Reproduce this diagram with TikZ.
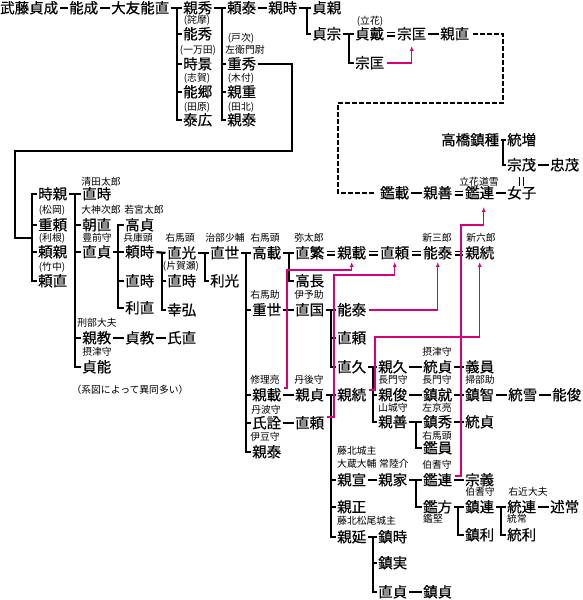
\documentclass[tikz,border=0pt]{standalone}
\usepackage{fontspec}
\setmainfont{Noto Sans CJK JP}
\newfontfamily\namefont{Noto Sans CJK JP}[FakeBold=0.5]
\usetikzlibrary{arrows.meta}
\definecolor{adoptpink}{HTML}{D6007B}
\tikzset{
  person/.style={inner sep=0pt, anchor=west, text height=12pt, text depth=1.5pt, font=\namefont\fontsize{14.5}{15}\selectfont},
  note/.style={inner sep=0pt, font=\fontsize{9.8}{11}\selectfont},
  kin/.style={line width=2.2pt},
  bond/.style={kin, shorten <=2pt, shorten >=1.5pt},
  wed/.style={double, line width=1.2pt, double distance=2.6pt, shorten <=2.5pt, shorten >=2.5pt},
  lineage/.style={line width=2.2pt, dash pattern=on 4.5pt off 2.5pt},
  adopt/.style={adoptpink, line width=1.2pt, -{Latex[length=5pt,width=4pt]}},
}
\begin{document}
\begin{tikzpicture}[x=1pt,y=-1pt]
  \useasboundingbox (0,0) rectangle (583,600);
  % head of the house
  \node[person] (mutou) at (0,8) {武藤貞成};
  \node[person] (yoshinari) at (69,8) {能成};
  \node[person] (yoshinao) at (111,8) {大友能直};
  \node[person] (chikahide) at (183,8) {親秀};
  \node[person] (yoshihide) at (183,34) {能秀};
  \node[person] (tokikage) at (183,64) {時景};
  \node[person] (yoshisato) at (183,92) {能郷};
  \node[person] (yasuhiro) at (183,120) {泰広};
  \node[note] at (197,20) {(詫摩)};
  \node[note] at (198,50) {(一万田)};
  \node[note] at (197,78) {(志賀)};
  \node[note] at (197,107) {(田原)};
  \node[person] (yoriyasu) at (227,8) {頼泰};
  \node[person] (shigehide) at (227,64) {重秀};
  \node[person] (chikashige) at (227,92) {親重};
  \node[person] (chikayasuA) at (227,120) {親泰};
  \node[note] at (241,38) {(戸次)};
  \node[note] at (245,50) {左衛門尉};
  \node[note] at (241,78) {(木付)};
  \node[note] at (241,107) {(田北)};
  \node[person] (chikatoki) at (268,8) {親時};
  \node[person] (sadachika) at (312,8) {貞親};
  \node[person] (sadamune) at (312,34) {貞宗};
  \node[person] (sadayoshi) at (355,34) {貞戴};
  \node[note] at (370,21) {(立花)};
  \node[person] (munetadaA) at (397,34) {宗匡};
  \node[person] (chikanao) at (440,34) {親直};
  \node[person] (munetadaB) at (355,63) {宗匡};

  \draw[bond] (mutou.east) -- (yoshinari.west);
  \draw[bond] (yoshinari.east) -- (yoshinao.west);
  \draw[bond] (yoshinao.east) -- (chikahide.west);
  \draw[kin] ([xshift=-6pt]chikahide.west) |- ([xshift=-1.5pt]yasuhiro.west);
  \foreach \c in {yoshihide,tokikage,yoshisato}
    \draw[kin] ([xshift=-6pt]chikahide.west |- \c.west) -- ([xshift=-1.5pt]\c.west);
  \draw[bond] (chikahide.east) -- (yoriyasu.west);
  \draw[kin] ([xshift=-5pt]yoriyasu.west) |- ([xshift=-1.5pt]chikayasuA.west);
  \foreach \c in {shigehide,chikashige}
    \draw[kin] ([xshift=-5pt]yoriyasu.west |- \c.west) -- ([xshift=-1.5pt]\c.west);
  \draw[bond] (yoriyasu.east) -- (chikatoki.west);
  \draw[bond] (chikatoki.east) -- (sadachika.west);
  \draw[kin] ([xshift=-5pt]sadachika.west) |- ([xshift=-1.5pt]sadamune.west);
  \draw[bond] (sadamune.east) -- (sadayoshi.west);
  \draw[kin] ([xshift=-6pt]sadayoshi.west) |- ([xshift=-1.5pt]munetadaB.west);
  \draw[wed] (sadayoshi.east) -- (munetadaA.west);
  \draw[bond] (munetadaA.east) -- (chikanao.west);
  \draw[adopt] ([xshift=3pt]munetadaB.east) -| ([yshift=-5pt]munetadaA.south);

  % Tachibana and Takahashi
  \node[person] (akinori) at (380,193) {鑑載};
  \node[person] (chikayoshiA) at (423,193) {親善};
  \node[person] (akitsuraA) at (465,193) {鑑連};
  \node[note] at (479,182) {立花道雪};
  \node[person] (nyoshi) at (507,193) {女子};
  \node[person] (takahashi) at (441,140) {高橋鎮種};
  \node[person] (munemasu) at (507,140) {統増};
  \node[person] (muneshige) at (507,165) {宗茂};
  \node[person] (tadashige) at (550,165) {忠茂};
  \draw[lineage] ([xshift=4pt]chikanao.east) -| (503,103) -| (338,193) -- ([xshift=-4pt]akinori.west);
  \draw[bond] (akinori.east) -- (chikayoshiA.west);
  \draw[wed] (chikayoshiA.east) -- (akitsuraA.west);
  \draw[bond] (akitsuraA.east) -- (nyoshi.west);
  \draw[bond] (takahashi.east) -- (munemasu.west);
  \draw[kin] ([xshift=-4pt]munemasu.west) |- ([xshift=-1.5pt]muneshige.west);
  \draw[bond] (muneshige.east) -- (tadashige.west);
  \draw[wed, shorten <=5pt, shorten >=0pt] (muneshige.south) -- (nyoshi.north);

  % Bekki line
  \node[person] (tokichika) at (38,194) {時親};
  \node[person] (shigeyori) at (38,225) {重頼};
  \node[person] (yorichika) at (38,252) {頼親};
  \node[person] (yorinao) at (38,281) {頼直};
  \node[note] at (52,210) {(松岡)};
  \node[note] at (52,238) {(利根)};
  \node[note] at (52,267) {(竹中)};
  \draw[kin] ([xshift=2pt]shigehide.east) -| (292,151) -| (15,238) coordinate (join) -- ([xshift=-6pt]tokichika.west |- join);
  \draw[kin] ([xshift=-1.5pt]tokichika.west) -| ([xshift=-6pt]yorinao.west) -- ([xshift=-1.5pt]yorinao.west);
  \foreach \c in {shigeyori,yorichika}
    \draw[kin] ([xshift=-6pt]tokichika.west |- \c.west) -- ([xshift=-1.5pt]\c.west);

  \node[person] (naotokiA) at (82,194) {直時};
  \node[note] at (101,182) {清田太郎};
  \node[person] (tomonao) at (82,225) {朝直};
  \node[note] at (101,210) {大神次郎};
  \node[person] (naosadaA) at (82,252) {直貞};
  \node[note] at (97,238) {豊前守};
  \node[person] (chikanoriA) at (82,338) {親教};
  \node[note] at (97,323) {刑部大夫};
  \node[person] (sadayoshiB) at (82,367) {貞能};
  \node[note] at (97,352) {摂津守};
  \draw[bond] (tokichika.east) -- (naotokiA.west);
  \draw[kin] ([xshift=-7pt]naotokiA.west) |- ([xshift=-1.5pt]sadayoshiB.west);
  \foreach \c in {tomonao,naosadaA,chikanoriA}
    \draw[kin] ([xshift=-7pt]naotokiA.west |- \c.west) -- ([xshift=-1.5pt]\c.west);

  \node[person] (takasada) at (125,225) {高貞};
  \node[note] at (144,210) {若宮太郎};
  \node[person] (yoritoki) at (125,252) {頼時};
  \node[note] at (138,238) {兵庫頭};
  \node[person] (naotokiB) at (125,281) {直時};
  \node[person] (toshinao) at (125,308) {利直};
  \draw[bond] (naosadaA.east) -- (yoritoki.west);
  \draw[kin] ([xshift=-1.5pt]takasada.west) -| ([xshift=-7pt]toshinao.west) -- ([xshift=-1.5pt]toshinao.west);
  \draw[kin] ([xshift=-7pt]takasada.west |- naotokiB.west) -- ([xshift=-1.5pt]naotokiB.west);

  \node[person] (sadanori) at (125,338) {貞教};
  \node[person] (ujinao) at (167,338) {氏直};
  \draw[bond] (chikanoriA.east) -- (sadanori.west);
  \draw[bond] (sadanori.east) -- (ujinao.west);

  \node[person] (naomitsu) at (167,253) {直光};
  \node[note] at (180,238) {右馬頭};
  \node[person] (naotokiC) at (167,281) {直時};
  \node[note] at (181,266) {(片賀瀬)};
  \node[person] (yukihiro) at (167,310) {幸弘};
  \draw[bond] (yoritoki.east) -- (naomitsu.west);
  \draw[kin] ([xshift=-5pt]naomitsu.west) |- ([xshift=-1.5pt]yukihiro.west);
  \draw[kin] ([xshift=-5pt]naomitsu.west |- naotokiC.west) -- ([xshift=-1.5pt]naotokiC.west);

  \node[person] (naoyo) at (210,253) {直世};
  \node[note] at (225,238) {治部少輔};
  \node[person] (toshimitsu) at (210,281) {利光};
  \draw[bond] (naomitsu.east) -- (naoyo.west);
  \draw[kin] ([xshift=-5pt]naoyo.west) |- ([xshift=-1.5pt]toshimitsu.west);

  \node[person] (takanori) at (252,253) {高載};
  \node[note] at (265,238) {右馬頭};
  \node[person] (shigeyo) at (252,310) {重世};
  \node[note] at (265,295) {右馬助};
  \node[person] (chikanoriB) at (252,395) {親載};
  \node[note] at (265,380) {修理亮};
  \node[person] (ujiakira) at (252,423) {氏詮};
  \node[note] at (266,410) {丹波守};
  \node[person] (chikayasuB) at (252,452) {親泰};
  \node[note] at (265,437) {伊豆守};
  \draw[bond] (naoyo.east) -- (takanori.west);
  \draw[kin] ([xshift=-6pt]takanori.west) |- ([xshift=-1.5pt]chikayasuB.west);
  \foreach \c in {shigeyo,chikanoriB,ujiakira}
    \draw[kin] ([xshift=-6pt]takanori.west |- \c.west) -- ([xshift=-1.5pt]\c.west);
  \node[note] at (130,390) {（系図によって異同多い）};

  % Takanori's line
  \node[person] (naoshige) at (295,253) {直繁};
  \node[note] at (309,238) {弥太郎};
  \node[person] (takanaga) at (295,281) {高長};
  \node[person] (chikanoriC) at (337,253) {親載};
  \node[person] (naoyoriA) at (380,253) {直頼};
  \node[person] (yoshiyasuA) at (423,253) {能泰};
  \node[note] at (437,238) {新三郎};
  \node[person] (chikatsuguA) at (465,253) {親続};
  \node[note] at (481,238) {新六郎};
  \draw[bond] (takanori.east) -- (naoshige.west);
  \draw[kin] ([xshift=-6pt]naoshige.west) |- ([xshift=-1.5pt]takanaga.west);
  \draw[wed] (naoshige.east) -- (chikanoriC.west);
  \draw[wed] (chikanoriC.east) -- (naoyoriA.west);
  \draw[wed] (naoyoriA.east) -- (yoshiyasuA.west);
  \draw[wed] (yoshiyasuA.east) -- (chikatsuguA.west);

  \node[person] (naokuni) at (295,310) {直国};
  \node[note] at (309,295) {伊予助};
  \node[person] (yoshiyasuB) at (337,310) {能泰};
  \node[person] (naoyoriB) at (337,338) {直頼};
  \node[person] (naohisa) at (337,367) {直久};
  \draw[bond] (shigeyo.east) -- (naokuni.west);
  \draw[bond] (naokuni.east) -- (yoshiyasuB.west);
  \draw[kin] ([xshift=-6pt]yoshiyasuB.west) |- ([xshift=-1.5pt]naohisa.west);
  \draw[kin] ([xshift=-6pt]yoshiyasuB.west |- naoyoriB.west) -- ([xshift=-1.5pt]naoyoriB.west);

  \node[person] (chikasada) at (295,395) {親貞};
  \node[note] at (309,380) {丹後守};
  \node[person] (naoyoriC) at (295,423) {直頼};
  \node[person] (chikatsuguB) at (337,395) {親続};
  \node[person] (chikanobuA) at (337,480) {親宣};
  \node[note, anchor=west] at (337,451) {藤北城主};
  \node[note, anchor=west] at (337,464) {大蔵大輔};
  \node[note, anchor=west] at (379,464) {常陸介};
  \node[person] (chikamasa) at (337,507) {親正};
  \node[person] (chikanobuB) at (337,537) {親延};
  \node[note, anchor=west] at (337,521) {藤北松尾城主};
  \draw[bond] (chikanoriB.east) -- (chikasada.west);
  \draw[bond] (ujiakira.east) -- (naoyoriC.west);
  \draw[bond] (chikasada.east) -- (chikatsuguB.west);
  \draw[kin] ([xshift=-6pt]chikatsuguB.west) |- ([xshift=-1.5pt]chikanobuB.west);
  \foreach \c in {chikanobuA,chikamasa}
    \draw[kin] ([xshift=-6pt]chikatsuguB.west |- \c.west) -- ([xshift=-1.5pt]\c.west);

  \node[person] (chikahisa) at (378,367) {親久};
  \node[person] (munesadaA) at (423,367) {統貞};
  \node[note] at (437,352) {摂津守};
  \node[person] (yoshikazu) at (465,367) {義員};
  \node[person] (chikatoshi) at (378,395) {親俊};
  \node[note] at (393,380) {長門守};
  \node[person] (shigenari) at (423,395) {鎮就};
  \node[note] at (437,380) {長門守};
  \node[person] (shigetomo) at (465,395) {鎮智};
  \node[note] at (480,380) {掃部助};
  \node[person] (muneyuki) at (508,395) {統雪};
  \node[person] (yoshitoshi) at (552,395) {能俊};
  \node[person] (chikayoshiB) at (378,422) {親善};
  \node[note] at (393,408) {山城守};
  \draw[bond] (naohisa.east) -- (chikahisa.west);
  \draw[kin] ([xshift=-5pt]chikahisa.west) |- ([xshift=-1pt]chikayoshiB.west);
  \draw[kin] ([xshift=-5pt]chikahisa.west |- chikatoshi.west) -- ([xshift=-1pt]chikatoshi.west);
  \draw[bond] (chikahisa.east) -- (munesadaA.west);
  \draw[bond] (munesadaA.east) -- (yoshikazu.west);
  \draw[bond] (chikatoshi.east) -- (shigenari.west);
  \draw[bond] (shigenari.east) -- (shigetomo.west);
  \draw[bond] (shigetomo.east) -- (muneyuki.west);
  \draw[bond] (muneyuki.east) -- (yoshitoshi.west);

  \node[person] (shigehideB) at (423,422) {鎮秀};
  \node[note] at (437,408) {左京亮};
  \node[person] (munesadaB) at (465,422) {統貞};
  \node[person] (akikazu) at (423,448) {鑑員};
  \node[note] at (437,436) {右馬頭};
  \draw[bond] (chikayoshiB.east) -- (shigehideB.west);
  \draw[kin] ([xshift=-7pt]shigehideB.west) |- ([xshift=-1.5pt]akikazu.west);
  \draw[bond] (shigehideB.east) -- (munesadaB.west);

  \node[person] (chikaie) at (378,480) {親家};
  \node[person] (akitsuraB) at (423,480) {鑑連};
  \node[note] at (437,465) {伯耆守};
  \node[person] (muneyoshi) at (465,480) {宗義};
  \node[person] (akikata) at (423,507) {鑑方};
  \node[note, anchor=west] at (423,519) {鑑堅};
  \draw[bond] (chikanobuA.east) -- (chikaie.west);
  \draw[bond] (chikaie.east) -- (akitsuraB.west);
  \draw[kin] ([xshift=-7pt]akitsuraB.west) |- ([xshift=-1.5pt]akikata.west);
  \draw[bond] (akitsuraB.east) -- (muneyoshi.west);

  \node[person] (shigetsura) at (465,507) {鎮連};
  \node[note] at (480,492) {伯耆守};
  \node[person] (shigetoshi) at (465,535) {鎮利};
  \node[person] (munetsura) at (507,507) {統連};
  \node[note] at (528,492) {右近大夫};
  \node[note, anchor=west] at (507,519) {統常};
  \node[person] (munetoshi) at (507,535) {統利};
  \node[person] (nobutsune) at (550,507) {述常};
  \draw[bond] (akikata.east) -- (shigetsura.west);
  \draw[kin] ([xshift=-7pt]shigetsura.west) |- ([xshift=-1.5pt]shigetoshi.west);
  \draw[bond] (shigetsura.east) -- (munetsura.west);
  \draw[kin] ([xshift=-6pt]munetsura.west) |- ([xshift=-1.5pt]munetoshi.west);
  \draw[bond] (munetsura.east) -- (nobutsune.west);

  \node[person] (shigetoki) at (378,537) {鎮時};
  \node[person] (shigezane) at (378,563) {鎮実};
  \node[person] (naosadaB) at (378,592) {直貞};
  \node[person] (shigesada) at (423,592) {鎮貞};
  \draw[bond] (chikanobuB.east) -- (shigetoki.west);
  \draw[kin] ([xshift=-5pt]shigetoki.west) |- ([xshift=-1.5pt]naosadaB.west);
  \draw[kin] ([xshift=-5pt]shigetoki.west |- shigezane.west) -- ([xshift=-1.5pt]shigezane.west);
  \draw[bond] (naosadaB.east) -- (shigesada.west);

  % adoptions
  \draw[adopt] ([shift={(3,-7)}]chikanoriB.east) -| (287,270) -| ([yshift=-2pt]chikanoriC.south);
  \draw[adopt] ([shift={(3,-6)}]naoyoriC.east) -| (334,275) -| ([yshift=-2pt]naoyoriA.south);
  \draw[adopt] ([xshift=3pt]yoshiyasuB.east) -| ([yshift=-2pt]yoshiyasuA.south);
  \draw[adopt] ([shift={(3,-5)}]chikatsuguB.east) -| (375,337) -| ([yshift=-2pt]chikatsuguA.south);
  \draw[adopt] ([shift={(3,-4)}]akitsuraB.east) -| (461,225) -| ([shift={(4,7)}]akitsuraA.south);
\end{tikzpicture}
\end{document}
